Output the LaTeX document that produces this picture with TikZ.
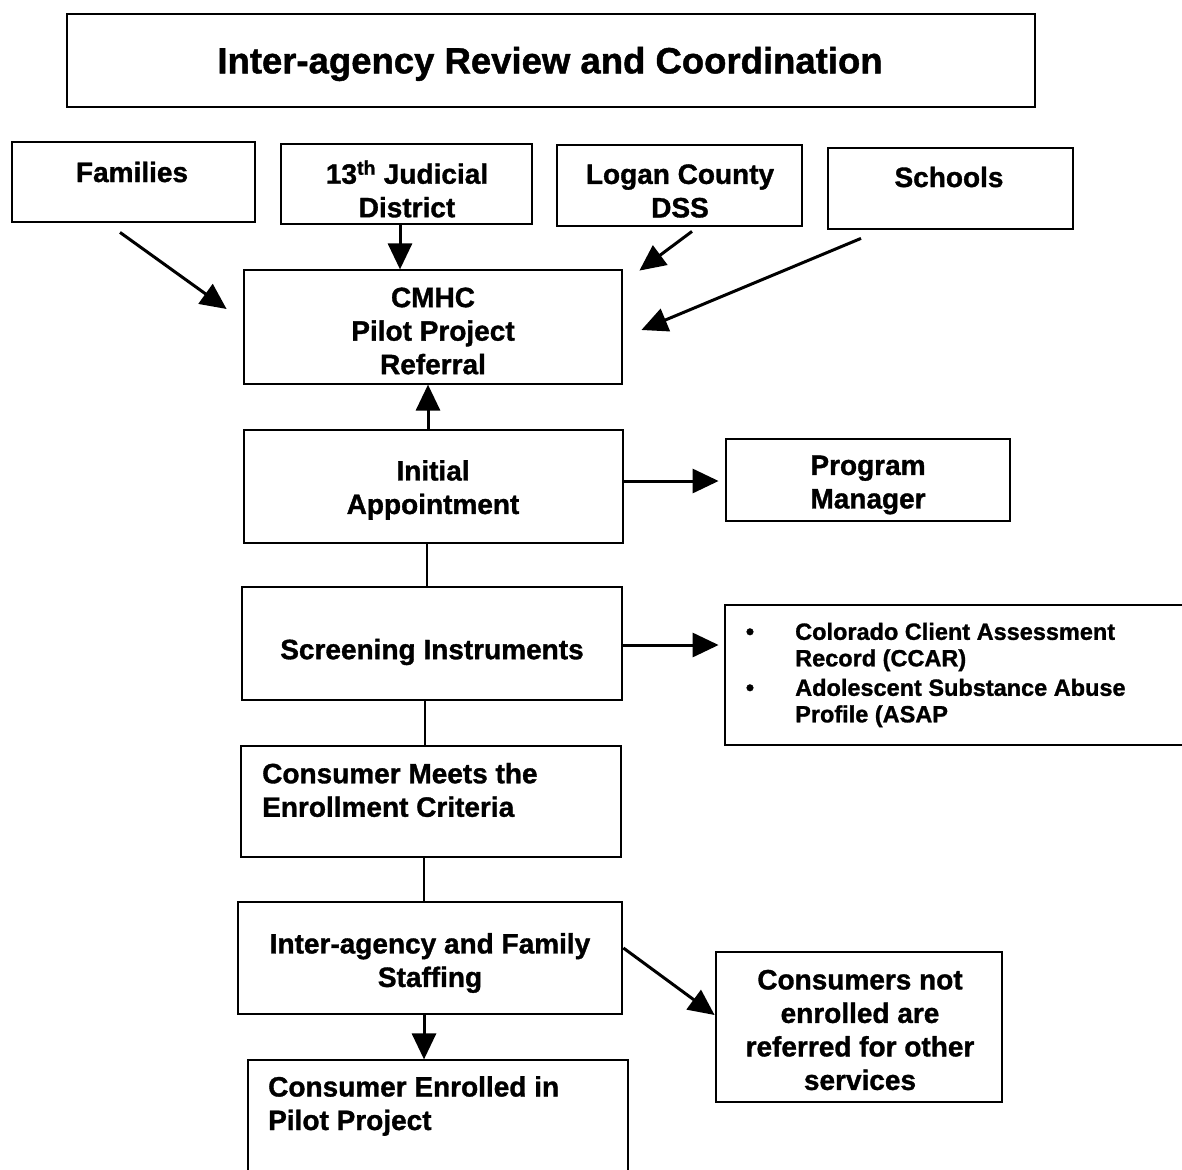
\documentclass[tikz,border=0pt]{standalone}
\usepackage{fontspec}
\setmainfont{Liberation Sans}[BoldFeatures={FakeBold=1.2}]
\usetikzlibrary{arrows.meta,calc}
\begin{document}
\begin{tikzpicture}[x=1pt,y=-1pt,
  box/.style={draw, line width=2.8pt, rectangle, inner sep=0pt},
  txt/.style={font=\fontsize{28}{33.5}\selectfont\bfseries, align=center, inner sep=0pt},
  ttl/.style={font=\fontsize{36.5}{40}\selectfont\bfseries, inner sep=0pt},
  small/.style={font=\fontsize{23.5}{26.5}\selectfont\bfseries, align=left, inner sep=0pt},
  arr/.style={line width=3pt, -{Triangle[length=26pt,width=24pt]}},
  ln/.style={line width=2.8pt}]
\useasboundingbox (0,0) rectangle (1182,1169);
\fill[white] (0,0) rectangle (1182,1169);

% boxes
\node[box, minimum width=968pt, minimum height=93pt] (title) at (551,60.5) {};
\node[box, minimum width=243pt, minimum height=80pt] (fam) at (133.5,182) {};
\node[box, minimum width=251pt, minimum height=80pt] (jud) at (406.5,184) {};
\node[box, minimum width=245pt, minimum height=81pt] (dss) at (679.5,185.5) {};
\node[box, minimum width=245pt, minimum height=81pt] (sch) at (950.5,188.5) {};
\node[box, minimum width=378pt, minimum height=114pt] (cmhc) at (433,327) {};
\node[box, minimum width=379pt, minimum height=113pt] (init) at (433.5,486.5) {};
\node[box, minimum width=284pt, minimum height=82pt] (pm) at (868,480) {};
\node[box, minimum width=380pt, minimum height=113pt] (scr) at (432,643.5) {};
\node[box, minimum width=470pt, minimum height=140pt] (ccar) at (960,675) {};
\node[box, minimum width=380pt, minimum height=111pt] (meets) at (431,801.5) {};
\node[box, minimum width=384pt, minimum height=112pt] (staff) at (430,958) {};
\node[box, minimum width=286pt, minimum height=150pt] (notenr) at (859,1027) {};
\node[box, minimum width=380pt, minimum height=125pt] (enr) at (438,1122.5) {};

% texts
\node[ttl] (titleT) at (550,64) {Inter-agency Review and Coordination};
\node[txt] (famT) at (132,172) {Families};
\node[txt] (judT) at (407,189) {13\textsuperscript{th} Judicial\\District};
\node[txt] (dssT) at (680,191) {Logan County\\DSS};
\node[txt] (schT) at (949,177) {Schools};
\node[txt] (cmhcT) at (433,331) {CMHC\\Pilot Project\\Referral};
\node[txt] (initT) at (433,490) {Initial\\Appointment};
\node[txt] (pmT) at (868,485) {Program\\Manager};
\node[txt] (scrT) at (432,652) {Screening Instruments};
\node[txt, align=left, anchor=west] (meetsT) at (262,790) {Consumer Meets the\\Enrollment Criteria};
\node[txt] (staffT) at (430,963) {Inter-agency and Family\\Staffing};
\node[txt] (notenrT) at (860,1030) {Consumers not\\enrolled are\\referred for other\\services};
\node[txt, align=left, anchor=west] (enrT) at (268,1106) {Consumer Enrolled in\\Pilot Project};

\node[small] (b1) at (750,634) {•};
\node[small] (b2) at (750,690) {•};
\node[small, anchor=west] (i1) at (795,647) {Colorado Client Assessment\\Record (CCAR)};
\node[small, anchor=west] (i2) at (795,703) {Adolescent Substance Abuse\\Profile (ASAP};

% connectors
\draw[arr] ($(fam.south)+(-13.5,9)$) -- ($(cmhc.west)+(-16,-18)$);
\draw[arr] ($(jud.south)+(-6.5,0)$) -- ($(jud.south)+(-6.5,44)$);
\draw[arr] ($(dss.south)+(12.5,4)$) -- ($(cmhc.north east)+(16,2)$);
\draw[arr] ($(sch.south)+(-89.5,8)$) -- ($(cmhc.east)+(18,3)$);
\draw[arr] ($(init.north)+(-5.5,0)$) -- ($(init.north)+(-5.5,-44)$);
\draw[arr] ($(init.east)+(0,-5.5)$) -- ($(pm.west)+(-6,1)$);
\draw[ln] ($(init.south)+(-6.5,0)$) -- ($(init.south)+(-6.5,44)$);
\draw[arr] ($(scr.east)+(0,1.5)$) -- ($(ccar.west)+(-5,-30)$);
\draw[ln] ($(scr.south)+(-7,0)$) -- ($(scr.south)+(-7,46)$);
\draw[ln] ($(meets.south)+(-7,0)$) -- ($(meets.south)+(-7,45)$);
\draw[arr] ($(staff.east)+(0,-10)$) -- ($(notenr.west)+(0,-12)$);
\draw[arr] ($(staff.south)+(-6,0)$) -- ($(staff.south)+(-6,44)$);
\end{tikzpicture}
\end{document}
